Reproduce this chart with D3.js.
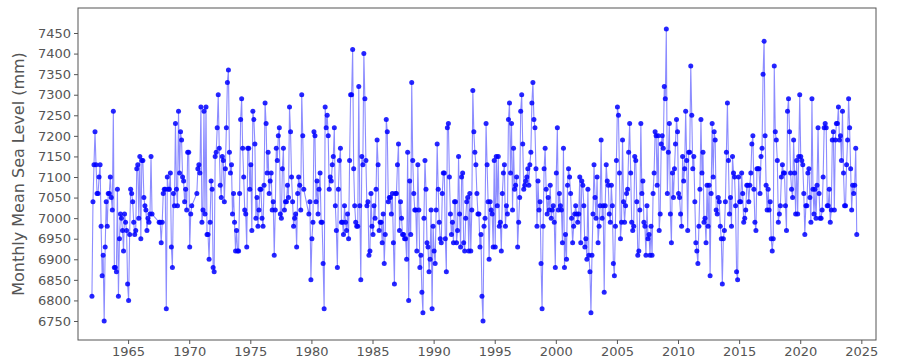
<!DOCTYPE html>
<html><head><meta charset="utf-8">
<script src="https://cdn.jsdelivr.net/npm/d3@7"></script>
<style>body{margin:0;background:#fff} svg{display:block} text{font-family:"DejaVu Sans",sans-serif}</style>
</head><body><svg id="chart" width="900" height="360"></svg>
<script>
// Monthly mean sea level (mm), one value per month starting January 1962; null = missing month
const startYear = 1962;
const msl1960s = [
  6810,7040,7130,7210,7130,7060,7060,7100,7130,6980,6860,6910,
  6750,6930,7040,6980,7060,7060,7100,7050,7020,7260,6880,6880,
  6870,7070,6810,6950,7010,7000,6970,6920,7010,6990,6970,6840,
  6800,6960,7070,7060,7040,6990,6960,6970,7120,7130,7000,7150,
  6950,7140,7140,7050,7030,7020,6970,7000,6990,7010,7150,7010,
  null,null,null,null,null,null,6990,6990,6940,6990,7060,7070,
  7070,6780,7100,7070,7070,7110,6930,6880,7060,7030,7230,7070,
  7030,7260,7110,7210,7190,7100,7090,7040,7070,7020,7160,7160
];
const msl1970s = [
  6930,7010,7030,null,null,null,null,7060,7120,7130,7110,7270,
  6990,7020,7260,7010,7270,6960,6960,6900,6990,7090,7070,6880,
  6870,7150,7160,7220,7300,7170,7080,7050,7150,7140,7040,7120,
  7220,7330,7360,7160,7110,7130,7010,7060,6990,6920,6970,6920,
  6920,7060,7240,7290,7170,7100,7020,7010,6930,7170,7170,7070,
  7130,6970,7260,7240,7180,7000,7050,6980,7020,7070,7070,7000,
  6980,7080,7280,7230,7110,7160,7060,7090,7110,7020,7040,6910,
  7020,7170,7140,7200,7220,7010,7000,7120,7170,7020,7040,7040,
  7080,7050,7270,7210,7100,7040,6980,7000,7010,6930,7060,7100,
  7080,7020,7300,7200,7070,null,null,null,null,7010,7040,6850
];
const msl1980s = [
  6950,6990,7210,7200,7040,7090,7010,7070,7110,6990,6990,6890,
  6780,7270,7220,7250,7200,7070,7100,7090,7130,7150,7220,7030,
  6970,6880,7070,7140,7170,6990,6990,6960,7030,6990,6970,7010,
  6950,7140,7300,7300,7410,7120,7030,6990,6980,6980,7320,7030,
  6850,7150,7130,7400,7290,7140,7030,7040,6910,6920,7060,6980,
  6960,7030,7000,7070,7190,7130,6970,6990,6990,6940,7010,6890,
  6960,7240,7210,7040,7050,7050,7010,7060,6940,6840,7060,7060,
  7130,7180,6970,7040,7000,6960,6960,6950,6950,6900,7160,6800,
  7090,6960,7330,7140,7060,7020,7020,6920,7130,7020,6880,6910,
  6820,6770,7000,7140,7070,6940,6930,6870,6900,7020,6780,6980
];
const msl1990s = [
  6920,6890,7020,7180,7070,6990,6950,6940,7060,7110,7110,6950,
  6870,7220,7230,7100,7010,6960,6990,6940,7040,7040,6940,6970,
  7150,7010,6930,7100,7110,6940,6920,7000,7040,7050,6920,7060,
  6920,7020,7310,7210,7160,7130,7060,7010,7010,6930,6960,6810,
  6750,6980,7000,7230,7130,7040,6900,7040,7020,7010,6930,7140,
  6930,7150,7030,7150,6980,6990,6920,7060,7110,7130,6980,7030,
  7010,7240,7280,7110,7230,7020,7170,7070,7080,7100,6930,6990,
  7050,7260,7300,7180,7070,7080,7090,7100,7120,7080,7130,7160,
  7280,7330,7240,7220,7120,6980,7090,7020,7040,6890,6780,6980,
  7120,7170,7070,7010,7050,7020,7080,7000,7020,7030,6990,6880
];
const msl2000s = [
  7110,7220,7020,7060,7030,7020,6940,7170,6880,6960,6900,7080,
  7120,7100,7060,7000,6940,6980,7010,7030,7010,6990,7010,7100,
  6940,7090,7080,7030,6930,6950,6900,7070,6910,6870,6770,6910,
  7010,7130,7050,7000,7100,6940,6980,7030,7190,7000,7030,6820,
  7030,7130,7090,7080,7010,6990,7080,7030,6890,6860,6980,7140,
  7270,7250,7110,6950,6990,7190,7040,6990,7030,7060,7070,7160,
  7230,7110,6990,6970,6980,7150,7140,7040,6910,6920,7020,7230,
  7060,7090,6990,6980,6910,7030,6950,6960,6910,6980,6910,7060,
  7110,7210,7200,7080,7200,6970,7010,7180,7200,7170,7320,7290,
  7460,7060,7160,7230,7010,6940,7110,7050,7120,7180,7240,7210
];
const msl2010s = [
  7060,7050,7010,6980,7150,7090,7120,7260,7140,6970,7160,7160,
  7370,7250,7120,7150,7040,6940,6920,6890,6980,7070,7240,7110,
  7160,6990,7000,6940,7080,6980,7080,6860,7060,7230,7100,7210,
  7190,7020,7010,7050,7040,6980,6950,6840,6950,6970,7040,7160,
  7280,7140,7010,7050,6980,7150,7110,7100,7030,6870,6850,7100,
  7040,7040,7110,7060,6990,7000,7020,7080,7080,7040,7080,7110,
  7180,7200,7070,6990,6970,7120,7120,7120,7060,7150,7170,7350,
  7430,7200,7080,7020,7070,7020,7040,6950,6920,6950,7370,7210,
  7190,7140,6990,7010,7030,7100,7130,7110,7110,7030,6970,7260,
  7290,7210,7110,7070,7050,7190,7110,7010,7140,7010,7150,7300
];
const msl2020s = [
  7150,7140,7130,7060,6960,7030,7030,7110,7120,7050,6990,7290,
  7070,7010,7070,7000,7080,7220,7060,7000,7000,7020,7100,7220,
  7230,7220,7030,7030,7070,6990,7020,7190,7210,7020,7190,7230,
  7230,7270,7190,7200,7140,7260,7110,7030,7030,7130,7190,7290,
  7220,7120,7020,7080,7060,7080,7170,6960
];
const xTickYears = d3.range(1965, 2026, 5);
const yTickValues = d3.range(6750, 7451, 50);
const yLabel = "Monthly Mean Sea Level (mm)";

const values = [].concat(msl1960s, msl1970s, msl1980s, msl1990s, msl2000s, msl2010s, msl2020s);
const data = values.map((v, i) => ({t: startYear + (i + 0.5) / 12, v}))
                   .filter(d => d.v !== null);

const L = 78, R = 876, T = 8, B = 340;
const svg = d3.select("#chart");
const x = d3.scaleLinear().domain([1960.9, 2026.2]).range([L, R]);
const y = d3.scaleLinear().domain([6703.8, 7510.8]).range([B, T]);

const axisColor = "#555";
const gx = svg.append("g").attr("transform", `translate(0,${B})`)
  .call(d3.axisBottom(x).tickValues(xTickYears).tickFormat(d3.format("d")).tickSize(4).tickSizeOuter(0).tickPadding(3));
const gy = svg.append("g").attr("transform", `translate(${L},0)`)
  .call(d3.axisLeft(y).tickValues(yTickValues).tickFormat(d3.format("d")).tickSize(4).tickSizeOuter(0).tickPadding(3));
[gx, gy].forEach(g => {
  g.select(".domain").remove();
  g.selectAll(".tick line").attr("stroke", axisColor);
  g.selectAll(".tick text").attr("fill", axisColor).style("font-size", "13px").style("font-family", "DejaVu Sans");
});

svg.append("rect").attr("x", L).attr("y", T).attr("width", R - L).attr("height", B - T)
  .attr("fill", "none").attr("stroke", axisColor).attr("stroke-width", 1);

svg.append("text").attr("transform", `translate(24,${(T + B) / 2}) rotate(-90)`)
  .attr("text-anchor", "middle").attr("fill", axisColor).style("font-size", "16px").text(yLabel);

const line = d3.line().x(d => x(d.t)).y(d => y(d.v));
svg.append("path").datum(data).attr("d", line).attr("fill", "none")
  .attr("stroke", "#0000ff").attr("stroke-opacity", 0.45).attr("stroke-width", 1.1);
svg.append("g").selectAll("circle").data(data).join("circle")
  .attr("cx", d => x(d.t)).attr("cy", d => y(d.v)).attr("r", 2.5)
  .attr("fill", "#0000ff").attr("fill-opacity", 0.85);
</script></body></html>
